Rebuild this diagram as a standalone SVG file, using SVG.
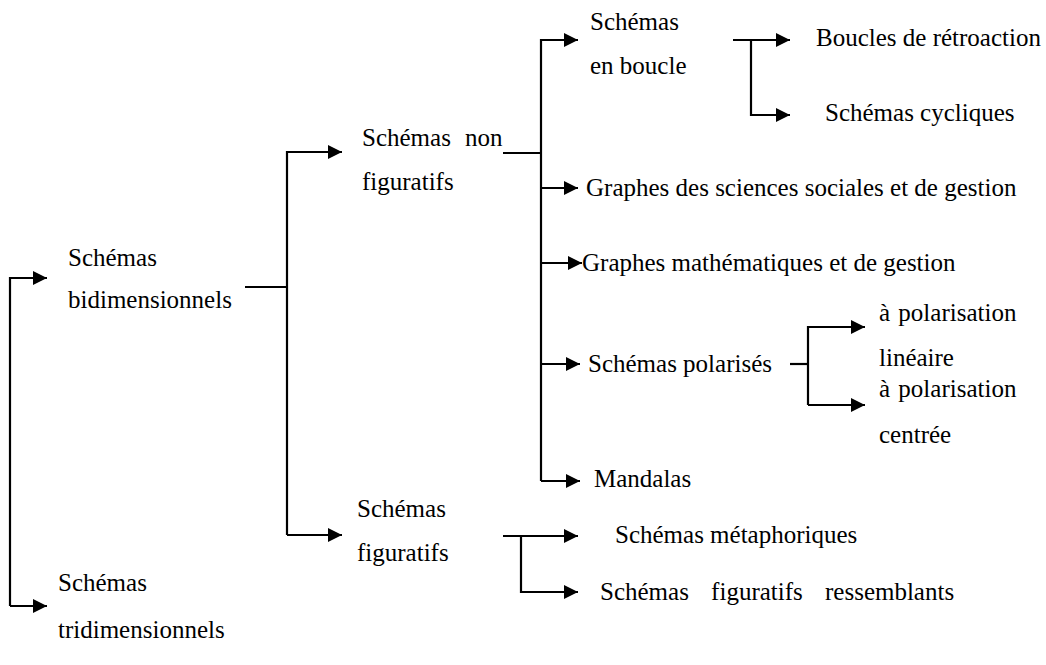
<svg xmlns="http://www.w3.org/2000/svg" width="1046" height="665" viewBox="0 0 1046 665">
<defs>
<marker id="ah" markerUnits="userSpaceOnUse" markerWidth="15" markerHeight="14" refX="14" refY="7" orient="auto">
<path d="M0,0 L14,7 L0,14 z" fill="#000"/>
</marker>
<style>
text{font-family:'Liberation Serif','Times New Roman',Tinos,'DejaVu Serif',serif;font-size:25px;fill:#000;white-space:pre}
.c{fill:none;stroke:#000;stroke-width:2.2}
.a{marker-end:url(#ah)}
</style>
</defs>
<rect width="1046" height="665" fill="#fff"/>
<g id="connectors">
<path class="c a" d="M10,606 V278 H47"/>
<path class="c a" d="M10,606 H47"/>
<path class="c" d="M245,287 H287"/>
<path class="c a" d="M287,535 V152 H342"/>
<path class="c a" d="M287,535 H342"/>
<path class="c" d="M503,153 H541"/>
<path class="c a" d="M541,481 V40 H578"/>
<path class="c a" d="M541,188 H578"/>
<path class="c a" d="M541,263 H582"/>
<path class="c a" d="M541,364 H580"/>
<path class="c a" d="M541,481 H580"/>
<path class="c a" d="M733,40 H790"/>
<path class="c a" d="M751,40 V115 H790"/>
<path class="c" d="M790,364 H808"/>
<path class="c a" d="M808,405 V327 H865"/>
<path class="c a" d="M808,405 H865"/>
<path class="c a" d="M503,536 H578"/>
<path class="c a" d="M521,536 V592 H578"/>
</g>
<g id="bidim" font-family="'Liberation Serif', serif"><text x="68" y="266">Schémas</text><text x="68" y="308">bidimensionnels</text></g>
<g id="tridim"><text x="58" y="591">Schémas</text><text x="58" y="638">tridimensionnels</text></g>
<g id="nonfig"><text x="362" y="146" style="word-spacing:8px">Schémas non</text><text x="362" y="190">figuratifs</text></g>
<g id="fig"><text x="357" y="517">Schémas</text><text x="357" y="561">figuratifs</text></g>
<g id="boucle"><text x="590" y="30">Schémas</text><text x="590" y="74">en boucle</text></g>
<g id="retro"><text x="816" y="46">Boucles de rétroaction</text></g>
<g id="cycl"><text x="825" y="121">Schémas cycliques</text></g>
<g id="sociales"><text x="586" y="196">Graphes des sciences sociales et de gestion</text></g>
<g id="math"><text x="582" y="271">Graphes mathématiques et de gestion</text></g>
<g id="polar"><text x="588" y="372">Schémas polarisés</text></g>
<g id="lineaire"><text x="879" y="321" style="word-spacing:2px">à polarisation</text><text x="879" y="366">linéaire</text></g>
<g id="centree"><text x="879" y="397" style="word-spacing:2px">à polarisation</text><text x="879" y="443">centrée</text></g>
<g id="mandalas"><text x="594" y="487">Mandalas</text></g>
<g id="meta"><text x="615" y="543">Schémas métaphoriques</text></g>
<g id="ressemb"><text x="600" y="600" style="word-spacing:16px">Schémas figuratifs ressemblants</text></g>
</svg>
